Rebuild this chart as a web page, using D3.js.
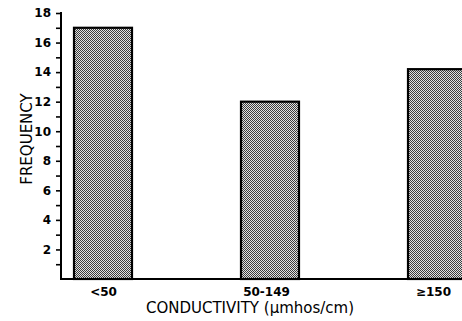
<!DOCTYPE html>
<html>
<head>
<meta charset="utf-8">
<script src="https://cdn.jsdelivr.net/npm/d3@7/dist/d3.min.js"></script>
<style>
  html, body { margin: 0; padding: 0; background: #fff; }
  svg { display: block; }
</style>
</head>
<body>
<script>
// Frequency of samples by conductivity class
const categories = ["<50", "50-149", "\u2265150"];
const frequency = [17, 12, 14.2];
const yTickValues = d3.range(1, 19);
const yLabelValues = [2, 4, 6, 8, 10, 12, 14, 16, 18];
const xTitle = "CONDUCTIVITY (\u03bcmhos/cm)";
const yTitle = "FREQUENCY";

const W = 462, H = 321;
const svg = d3.select("body").append("svg").attr("width", W).attr("height", H);

const axisX = 61, baseY = 279, topY = 13;
const y = d3.scaleLinear().domain([0, 18]).range([baseY, topY]);
const x = d3.scalePoint().domain(categories).range([103, 437]);
const barW = 58;

// halftone screen fill
const defs = svg.append("defs");
const pat = defs.append("pattern").attr("id", "screen")
  .attr("patternUnits", "userSpaceOnUse").attr("width", 2).attr("height", 2);
pat.append("rect").attr("width", 2).attr("height", 2).attr("fill", "#e2e2e2");
pat.append("rect").attr("width", 1).attr("height", 1).attr("fill", "#3c3c3c");
pat.append("rect").attr("x", 1).attr("y", 1).attr("width", 1).attr("height", 1).attr("fill", "#3c3c3c");

// bars
svg.selectAll("rect.bar").data(frequency).enter().append("rect")
  .attr("class", "bar")
  .attr("x", (d, i) => x(categories[i]) - barW / 2)
  .attr("y", d => y(d))
  .attr("width", barW)
  .attr("height", d => baseY - y(d))
  .attr("fill", "url(#screen)")
  .attr("stroke", "#000")
  .attr("stroke-width", 2.2);

// y axis
const yAxis = d3.axisLeft(y).tickValues(yTickValues).tickSize(5).tickPadding(5)
  .tickFormat(d => yLabelValues.includes(d) ? d : "");
const gy = svg.append("g").attr("transform", `translate(${axisX},0)`).call(yAxis);
gy.select(".domain").remove();
gy.selectAll(".tick line").attr("stroke", "#000").attr("stroke-width", 1.6);
gy.selectAll(".tick text").attr("fill", "#000")
  .style("font-family", "'DejaVu Sans', sans-serif").style("font-weight", "bold").style("font-size", "12px");
svg.append("line").attr("x1", axisX).attr("x2", axisX).attr("y1", topY - 1).attr("y2", baseY + 1)
  .attr("stroke", "#000").attr("stroke-width", 2);

// x axis
svg.append("line").attr("x1", axisX - 1).attr("x2", W).attr("y1", baseY).attr("y2", baseY)
  .attr("stroke", "#000").attr("stroke-width", 2);
const xAxis = d3.axisBottom(x).tickSize(0).tickPadding(8);
const gx = svg.append("g").attr("transform", `translate(0,${baseY})`).call(xAxis);
gx.select(".domain").remove();
gx.selectAll(".tick text").attr("fill", "#000")
  .style("font-family", "'DejaVu Sans', sans-serif").style("font-weight", "bold").style("font-size", "12px");
gx.selectAll(".tick").filter(d => d === "50-149").select("text").attr("dx", -4);
gx.selectAll(".tick").filter(d => d === "\u2265150").select("text").attr("dx", -4);

// titles
svg.append("text").attr("x", 250).attr("y", 313).attr("text-anchor", "middle")
  .style("font-family", "'DejaVu Sans', sans-serif").style("font-size", "15px").text(xTitle);
svg.append("text").attr("transform", "translate(32,139) rotate(-90)").attr("text-anchor", "middle")
  .style("font-family", "'DejaVu Sans', sans-serif").style("font-size", "15px").text(yTitle);
</script>
</body>
</html>
